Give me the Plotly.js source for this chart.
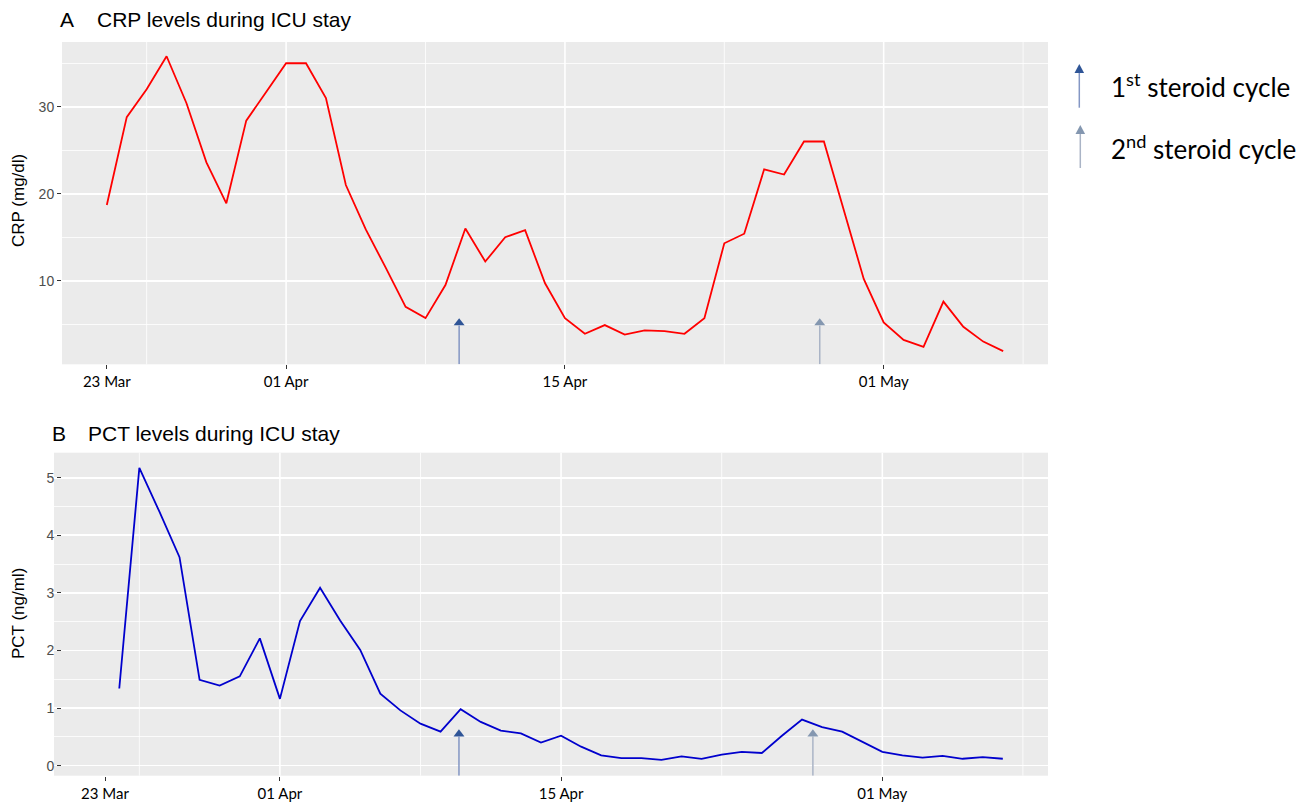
<!DOCTYPE html>
<html><head><meta charset="utf-8">
<script src="https://cdn.plot.ly/plotly-3.0.1.min.js"></script>
<style>html,body{margin:0;padding:0;background:#fff}#chart{width:1309px;height:803px}</style>
</head><body><div id="chart"></div>
<script>
// ---------- data ----------
const crpDates = ['2020-03-23','2020-03-24','2020-03-25','2020-03-26','2020-03-27','2020-03-28','2020-03-29','2020-03-30','2020-03-31',
  '2020-04-01','2020-04-02','2020-04-03','2020-04-04','2020-04-05','2020-04-06','2020-04-07','2020-04-08','2020-04-09','2020-04-10',
  '2020-04-11','2020-04-12','2020-04-13','2020-04-14','2020-04-15','2020-04-16','2020-04-17','2020-04-18','2020-04-19','2020-04-20',
  '2020-04-21','2020-04-22','2020-04-23','2020-04-24','2020-04-25','2020-04-26','2020-04-27','2020-04-28','2020-04-29','2020-04-30',
  '2020-05-01','2020-05-02','2020-05-03','2020-05-04','2020-05-05','2020-05-06','2020-05-07'];
const crpValues = [18.7,28.8,32.0,35.8,30.4,23.6,18.9,28.4,31.7,
  35.0,35.0,31.0,21.0,15.9,11.5,7.0,5.7,9.5,16.0,
  12.2,15.0,15.8,9.7,5.7,3.9,4.9,3.8,4.3,4.2,
  3.9,5.7,14.3,15.4,22.8,22.2,26.0,26.0,18.1,10.2,
  5.2,3.2,2.4,7.6,4.7,3.0,1.9];
const pctDates = ['2020-03-24','2020-03-25','2020-03-26','2020-03-27','2020-03-28','2020-03-29','2020-03-30','2020-03-31',
  '2020-04-01','2020-04-02','2020-04-03','2020-04-04','2020-04-05','2020-04-06','2020-04-07','2020-04-08','2020-04-09','2020-04-10',
  '2020-04-11','2020-04-12','2020-04-13','2020-04-14','2020-04-15','2020-04-16','2020-04-17','2020-04-18','2020-04-19','2020-04-20',
  '2020-04-21','2020-04-22','2020-04-23','2020-04-24','2020-04-25','2020-04-26','2020-04-27','2020-04-28','2020-04-29','2020-04-30',
  '2020-05-01','2020-05-02','2020-05-03','2020-05-04','2020-05-05','2020-05-06','2020-05-07'];
const pctValues = [1.34,5.17,4.41,3.62,1.49,1.39,1.55,2.21,
  1.16,2.51,3.09,2.52,2.01,1.25,0.96,0.73,0.59,0.98,
  0.76,0.61,0.56,0.40,0.52,0.33,0.18,0.13,0.13,0.10,
  0.16,0.12,0.19,0.24,0.22,0.52,0.80,0.67,0.59,0.41,
  0.24,0.18,0.14,0.17,0.12,0.15,0.12];

// steroid cycle markers (arrow positions)
const steroidLabels = ['1<sup>st</sup> steroid cycle','2<sup>nd</sup> steroid cycle'];
const steroidDatesCRP = ['2020-04-09 16:30','2020-04-27 19:00'];
const steroidDatesPCT = ['2020-04-09 22:00','2020-04-27 13:00'];
const arrowTipCRP = 5.14, arrowBaseCRP = 4.86;
const arrowTipPCT = 0.55, arrowBasePCT = 0.51;
const headColors = ['#2F5597','#8497B0'];
const shaftColors = ['#8497C4','#AAB4C6'];

// axes
const xTickValsTop = ['2020-03-23','2020-04-01','2020-04-15','2020-05-01'];
const xTickValsBot = ['2020-03-23 07:00','2020-04-01','2020-04-15','2020-05-01'];
const xTickLabels = ['23 Mar','01 Apr','15 Apr','01 May'];
const xMajorGrid = ['2020-04-01','2020-04-15','2020-05-01'];
const xMinorGrid = ['2020-03-25','2020-04-08','2020-04-23','2020-05-08'];
const xRange = ['2020-03-20 18:00','2020-05-09 06:00'];
const crpTicks = [10,20,30];
const pctTicks = [0,1,2,3,4,5];
const crpRange = [0.39,37.44];
const pctRange = [-0.174,5.434];

// ---------- layout helpers ----------
const W = 1309, H = 803;
const px = v => v / W, py = v => 1 - v / H;
const tickFontY = {family:'Liberation Sans, Arial, sans-serif', size:14, color:'#4D4D4D'};
const tickFontX = {family:'Lato, sans-serif', size:15, color:'#000'};

function yAxis(domain, range, ticks, minorStep){
  return {domain, range, tickvals:ticks, ticks:'outside', ticklen:4, tickwidth:1, tickcolor:'#333',
    tickfont:tickFontY, showgrid:true, gridcolor:'#FFFFFF', gridwidth:1.6, zeroline:false, showline:false,
    minor:{tick0:0, dtick:minorStep, showgrid:true, gridcolor:'#FFFFFF', gridwidth:0.8, ticks:''},
    fixedrange:true, automargin:false};
}
function xAxis(domain, anchor, tickvals){
  return {domain, anchor, type:'date', range:xRange, tickvals, ticktext:xTickLabels,
    ticks:'outside', ticklen:4, tickwidth:1, tickcolor:'#333', tickfont:tickFontX,
    showgrid:false, zeroline:false, showline:false, fixedrange:true, automargin:false};
}

const shapes = [];
[['x','y'],['x2','y2']].forEach(([xr,yr])=>{
  xMajorGrid.forEach(d=>shapes.push({type:'line', xref:xr, yref:yr+' domain', x0:d, x1:d, y0:0, y1:1,
    line:{color:'#FFFFFF', width:1.6}, layer:'below'}));
  xMinorGrid.forEach(d=>shapes.push({type:'line', xref:xr, yref:yr+' domain', x0:d, x1:d, y0:0, y1:1,
    line:{color:'#FFFFFF', width:0.8}, layer:'below'}));
});
// arrow shafts
steroidDatesCRP.forEach((d,i)=>shapes.push({type:'line', xref:'x', yref:'y', x0:d, x1:d, y0:crpRange[0], y1:arrowBaseCRP,
  line:{color:shaftColors[i], width:1.5}}));
steroidDatesPCT.forEach((d,i)=>shapes.push({type:'line', xref:'x2', yref:'y2', x0:d, x1:d, y0:pctRange[0], y1:arrowBasePCT,
  line:{color:shaftColors[i], width:1.5}}));
// legend arrows (paper coords)
const legArrows = [{x:1079.3, tip:64, base:73, end:107.7},{x:1080.3, tip:125, base:134, end:168}];
legArrows.forEach((a,i)=>{
  shapes.push({type:'line', xref:'paper', yref:'paper', x0:px(a.x), x1:px(a.x), y0:py(a.base), y1:py(a.end),
    line:{color:shaftColors[i], width:1.5}});
  shapes.push({type:'path', xref:'paper', yref:'paper',
    path:`M ${px(a.x-4.8)} ${py(a.base)} L ${px(a.x+4.8)} ${py(a.base)} L ${px(a.x)} ${py(a.tip)} Z`,
    fillcolor:headColors[i], line:{width:0}});
});

const titleFont = {family:'Liberation Sans, Arial, sans-serif', size:21, color:'#000'};
const axTitleFont = {family:'Liberation Sans, Arial, sans-serif', size:17, color:'#000'};
const annotations = [
  {text:'A', x:px(58), y:py(20), xref:'paper', yref:'paper', xanchor:'left', yanchor:'middle', showarrow:false, font:titleFont},
  {text:'CRP levels during ICU stay', x:px(95), y:py(20), xref:'paper', yref:'paper', xanchor:'left', yanchor:'middle', showarrow:false, font:titleFont},
  {text:'B', x:px(50), y:py(433), xref:'paper', yref:'paper', xanchor:'left', yanchor:'middle', showarrow:false, font:titleFont},
  {text:'PCT levels during ICU stay', x:px(86), y:py(433), xref:'paper', yref:'paper', xanchor:'left', yanchor:'middle', showarrow:false, font:titleFont},
  {text:'CRP (mg/dl)', x:px(18), y:py(201), xref:'paper', yref:'paper', xanchor:'center', yanchor:'middle', textangle:-90, showarrow:false, font:axTitleFont},
  {text:'PCT (ng/ml)', x:px(18), y:py(614), xref:'paper', yref:'paper', xanchor:'center', yanchor:'middle', textangle:-90, showarrow:false, font:axTitleFont},
];
steroidLabels.forEach((t,i)=>annotations.push({text:t, x:px(1109), y:py(i===0?86:147), xref:'paper', yref:'paper',
  xanchor:'left', yanchor:'middle', showarrow:false, font:{family:'Lato, sans-serif', size:26, color:'#000'}}));

const traces = [
  {type:'scatter', mode:'lines', x:crpDates, y:crpValues, xaxis:'x', yaxis:'y', line:{color:'#FF0000', width:1.8}, hoverinfo:'x+y'},
  {type:'scatter', mode:'lines', x:pctDates, y:pctValues, xaxis:'x2', yaxis:'y2', line:{color:'#0000CD', width:1.8}, hoverinfo:'x+y'},
  {type:'scatter', mode:'markers', x:steroidDatesCRP, y:[arrowTipCRP, arrowTipCRP], xaxis:'x', yaxis:'y',
    marker:{symbol:'triangle-up', size:9.5, color:headColors, line:{width:0}}, cliponaxis:false, hoverinfo:'skip'},
  {type:'scatter', mode:'markers', x:steroidDatesPCT, y:[arrowTipPCT, arrowTipPCT], xaxis:'x2', yaxis:'y2',
    marker:{symbol:'triangle-up', size:9.5, color:headColors, line:{width:0}}, cliponaxis:false, hoverinfo:'skip'},
];

const layout = {
  width:W, height:H, margin:{l:0, r:0, t:0, b:0}, showlegend:false,
  paper_bgcolor:'#FFFFFF', plot_bgcolor:'#EBEBEB',
  xaxis: xAxis([px(62), px(1048)], 'y', xTickValsTop),
  yaxis: yAxis([py(364.3), py(42)], crpRange, crpTicks, 5),
  xaxis2: xAxis([px(54), px(1048)], 'y2', xTickValsBot),
  yaxis2: yAxis([py(775.7), py(452.7)], pctRange, pctTicks, 0.5),
  shapes, annotations
};
Plotly.newPlot('chart', traces, layout, {displayModeBar:false, staticPlot:true});
</script></body></html>
